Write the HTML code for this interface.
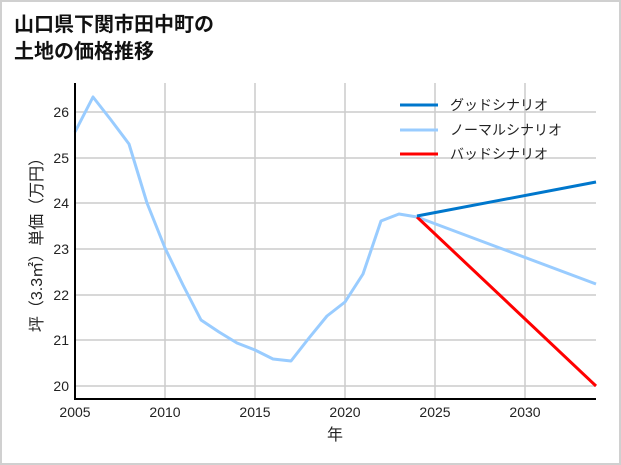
<!DOCTYPE html>
<html><head><meta charset="utf-8"><style>
html,body{margin:0;padding:0;background:#fff}
svg{display:block}
text{font-family:"Liberation Sans","Noto Sans CJK JP",sans-serif}
</style></head><body>
<svg width="621" height="465" viewBox="0 0 621 465" xmlns="http://www.w3.org/2000/svg">
<rect x="1" y="1" width="619" height="463" fill="#fff" stroke="#d0d0d0" stroke-width="2"/>
<text x="14" y="31" font-size="20" font-weight="bold" fill="#111">山口県下関市田中町の</text>
<text x="14" y="58" font-size="20" font-weight="bold" fill="#111">土地の価格推移</text>
<g stroke="#cccccc" stroke-width="1.5">
<line x1="165" y1="83" x2="165" y2="399"/><line x1="255" y1="83" x2="255" y2="399"/>
<line x1="345" y1="83" x2="345" y2="399"/><line x1="435" y1="83" x2="435" y2="399"/>
<line x1="525" y1="83" x2="525" y2="399"/>
<line x1="75" y1="112" x2="596" y2="112"/><line x1="75" y1="158" x2="596" y2="158"/>
<line x1="75" y1="203" x2="596" y2="203"/><line x1="75" y1="249" x2="596" y2="249"/>
<line x1="75" y1="295" x2="596" y2="295"/><line x1="75" y1="340" x2="596" y2="340"/>
<line x1="75" y1="386" x2="596" y2="386"/>
</g>
<g font-size="14" fill="#222" text-anchor="end">
<text x="69" y="117">26</text><text x="69" y="163">25</text><text x="69" y="208">24</text>
<text x="69" y="254">23</text><text x="69" y="300">22</text><text x="69" y="345">21</text>
<text x="69" y="391">20</text>
</g>
<g font-size="14" fill="#222" text-anchor="middle">
<text x="75" y="417">2005</text><text x="165" y="417">2010</text><text x="255" y="417">2015</text>
<text x="345" y="417">2020</text><text x="435" y="417">2025</text><text x="525" y="417">2030</text>
<text x="335" y="440" font-size="16">年</text>
</g>
<text transform="translate(42,241) rotate(-90)" font-size="16" fill="#222" text-anchor="middle">坪（3.3㎡）単価（万円）</text>
<polyline fill="none" stroke="#99ccff" stroke-width="3" stroke-linejoin="round" points="75,132 93,97 111,120 129,144 147,203 165,248 183,285 201,320 219,332 237,343 255,350 273,359 291,361 309,338 327,316 345,302 363,274 381,221 399,214 417,217"/>
<line x1="417" y1="217" x2="596" y2="284" stroke="#99ccff" stroke-width="3"/>
<line x1="417" y1="217" x2="596" y2="386" stroke="#ff0000" stroke-width="3"/>
<line x1="417" y1="216" x2="596" y2="182" stroke="#0077cc" stroke-width="3"/>
<line x1="75" y1="83" x2="75" y2="400" stroke="#000" stroke-width="2"/>
<line x1="74" y1="399" x2="596" y2="399" stroke="#000" stroke-width="2"/>
<g font-size="14" fill="#222">
<line x1="400" y1="105" x2="438" y2="105" stroke="#0077cc" stroke-width="3"/>
<text x="450" y="110">グッドシナリオ</text>
<line x1="400" y1="130" x2="438" y2="130" stroke="#99ccff" stroke-width="3"/>
<text x="450" y="135">ノーマルシナリオ</text>
<line x1="400" y1="154" x2="438" y2="154" stroke="#ff0000" stroke-width="3"/>
<text x="450" y="159">バッドシナリオ</text>
</g>
</svg>
</body></html>
